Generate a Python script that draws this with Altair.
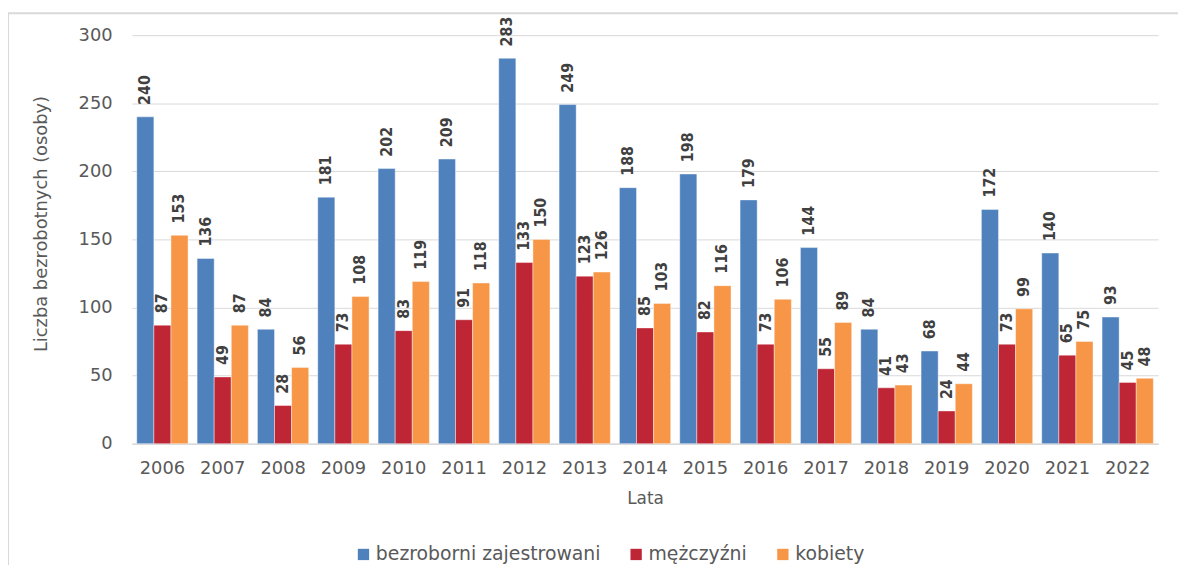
import altair as alt
import pandas as pd

years = ["2006", "2007", "2008", "2009", "2010", "2011", "2012", "2013", "2014",
         "2015", "2016", "2017", "2018", "2019", "2020", "2021", "2022"]
series = ["bezroborni zajestrowani", "mężczyźni", "kobiety"]
total = [240, 136, 84, 181, 202, 209, 283, 249, 188, 198, 179, 144, 84, 68, 172, 140, 93]
men = [87, 49, 28, 73, 83, 91, 133, 123, 85, 82, 73, 55, 41, 24, 73, 65, 45]
women = [153, 87, 56, 108, 119, 118, 150, 126, 103, 116, 106, 89, 43, 44, 99, 75, 48]
colors = ["#4F81BD", "#BE2535", "#F79646"]
y_ticks = [0, 50, 100, 150, 200, 250, 300]

rows = []
for i, y in enumerate(years):
    for s, vals in zip(series, [total, men, women]):
        rows.append({"rok": y, "seria": s, "wartosc": vals[i]})
df = pd.DataFrame(rows)

FONT = "DejaVu Sans"
GRAY = "#595959"

base = alt.Chart(df).encode(
    x=alt.X("rok:N", sort=years,
            scale=alt.Scale(paddingInner=0.15, paddingOuter=0.08),
            axis=alt.Axis(title="Lata", labelAngle=0, ticks=False,
                          domainColor="#D9D9D9", domainWidth=1.5,
                          labelPadding=16, titlePadding=13,
                          labelFont=FONT, labelFontSize=18, labelColor=GRAY,
                          titleFont=FONT, titleFontSize=17, titleColor=GRAY,
                          titleFontWeight="normal")),
    xOffset=alt.XOffset("seria:N", sort=series,
                        scale=alt.Scale(domain=series, paddingInner=0, paddingOuter=0)),
    y=alt.Y("wartosc:Q", scale=alt.Scale(domain=[0, 300]),
            axis=alt.Axis(title="Liczba bezrobotnych (osoby)", values=y_ticks,
                          ticks=False, domain=False, grid=True,
                          gridColor="#D9D9D9", gridWidth=1,
                          labelPadding=20, titlePadding=28, titleY=190,
                          labelFont=FONT, labelFontSize=18, labelColor=GRAY,
                          titleFont=FONT, titleFontSize=18, titleColor=GRAY,
                          titleFontWeight="normal")),
)

bars = base.mark_bar(stroke="white", strokeWidth=0.6, strokeOpacity=0.7).encode(
    color=alt.Color("seria:N", sort=series,
                    scale=alt.Scale(domain=series, range=colors),
                    legend=alt.Legend(title=None, orient="none", direction="horizontal",
                                      legendX=224, legendY=514,
                                      symbolType="square", symbolSize=130,
                                      symbolStrokeWidth=0, labelOffset=3,
                                      columnPadding=26, labelLimit=0,
                                      labelFont=FONT, labelFontSize=19,
                                      labelColor=GRAY))
)

labels = base.mark_text(angle=270, align="left", baseline="middle", dx=12,
                        font="DejaVu Sans Condensed", fontSize=16,
                        fontWeight="bold", color="#404040").encode(
    text=alt.Text("wartosc:Q")
)

frame_df = pd.DataFrame({"k": [0]})
left_line = alt.Chart(frame_df).mark_rule(color="#D9D9D9", strokeWidth=2).encode(
    x=alt.value(-125), y=alt.value(-22), y2=alt.value(560))
top_line = alt.Chart(frame_df).mark_rule(color="#D9D9D9", strokeWidth=2).encode(
    x=alt.value(-125), x2=alt.value(1060), y=alt.value(-22))

chart = alt.layer(left_line, top_line, bars, labels).properties(
    width=1035, height=412,
    autosize=alt.AutoSizeParams(type="none"),
    padding={"left": 125, "top": 25, "right": 20, "bottom": 120},
    background="white",
).configure_view(strokeWidth=0)

chart.save("out.html", embed_options={"renderer": "svg", "actions": False})
